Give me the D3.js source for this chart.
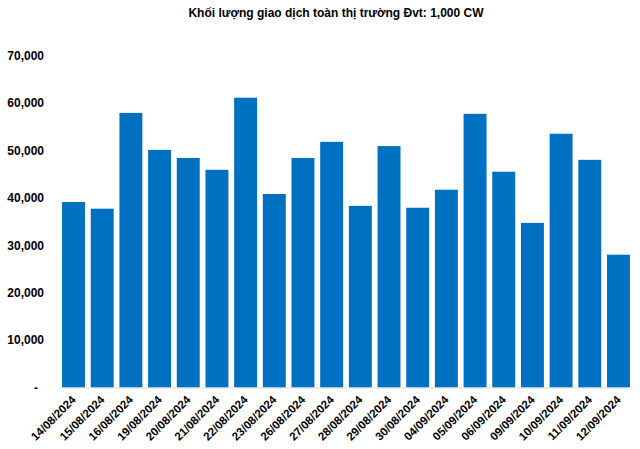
<!DOCTYPE html>
<html>
<head>
<meta charset="utf-8">
<script src="https://cdn.jsdelivr.net/npm/d3@7/dist/d3.min.js"></script>
<style>
  html, body { margin: 0; padding: 0; background: #fff; }
  svg { display: block; }
  text { font-family: "Liberation Sans", Arial, sans-serif; font-weight: bold; fill: #000; }
</style>
</head>
<body>
<svg id="chart" width="640" height="449"></svg>
<script>
const title = "Khối lượng giao dịch toàn thị trường Đvt: 1,000 CW";
const categories = ["14/08/2024","15/08/2024","16/08/2024","19/08/2024","20/08/2024","21/08/2024","22/08/2024","23/08/2024","26/08/2024","27/08/2024","28/08/2024","29/08/2024","30/08/2024","04/09/2024","05/09/2024","06/09/2024","09/09/2024","10/09/2024","11/09/2024","12/09/2024"];
const values = [39100, 37700, 57900, 50100, 48400, 45900, 61100, 40800, 48400, 51800, 38300, 50900, 37900, 41700, 57700, 45500, 34700, 53500, 48000, 28000];
const yTicks = [0, 10000, 20000, 30000, 40000, 50000, 60000, 70000];

const svg = d3.select("#chart");

const x = d3.scaleBand().domain(categories).range([59.2, 632.8]).paddingInner(0.2).paddingOuter(0.1);
const y = d3.scaleLinear().domain([0, 70000]).range([387.5, 55.5]);

svg.append("text")
  .attr("x", 336).attr("y", 17)
  .attr("text-anchor", "middle")
  .style("font-size", "12px")
  .text(title);

// y axis labels
const fmt = d3.format(",");
const yAxis = d3.axisLeft(y).tickValues(yTicks).tickSize(0).tickPadding(0)
  .tickFormat(d => d === 0 ? "-" : fmt(d));
const gy = svg.append("g").attr("transform", "translate(44,0)").call(yAxis);
gy.select(".domain").remove();
gy.selectAll("text").style("font-size", "12px").attr("fill", "#000")
  .attr("font-family", null)
  .attr("dx", d => d === 0 ? "-6" : "0");

// bars
svg.append("g").selectAll("rect").data(values).join("rect")
  .attr("x", (d, i) => x(categories[i]))
  .attr("width", x.bandwidth())
  .attr("y", d => y(d))
  .attr("height", d => y(0) - y(d))
  .attr("fill", "#0070C0");

// x axis
const xAxis = d3.axisBottom(x).tickSize(0).tickPadding(0);
const gx = svg.append("g").attr("transform", `translate(0,${y(0)})`).call(xAxis);
gx.select(".domain").attr("stroke", "#d9d9d9").attr("stroke-width", 1)
  .attr("d", `M${x.range()[0] + 1},0.5H${x.range()[1]}`);
gx.selectAll("text")
  .style("font-size", "11.5px").attr("fill", "#000").attr("font-family", null)
  .attr("text-anchor", "end")
  .attr("dy", null).attr("y", 0)
  .attr("transform", "translate(3,13) rotate(-45)");
</script>
</body>
</html>
